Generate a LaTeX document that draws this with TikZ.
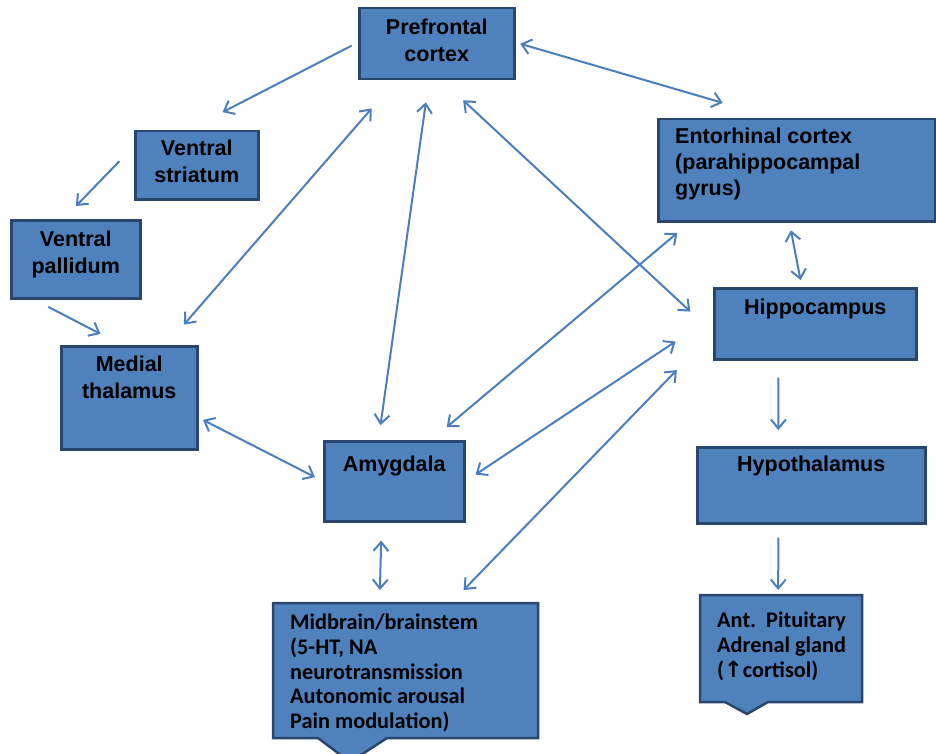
\documentclass[tikz,border=0pt]{standalone}
\usepackage{fontspec}
\setmainfont{Liberation Sans}
\newfontfamily\calib{Carlito}
\newfontfamily\symb{DejaVu Sans}
\usetikzlibrary{positioning,arrows.meta,calc}

\definecolor{boxfill}{RGB}{79,129,189}
\definecolor{boxline}{RGB}{40,70,110}
\definecolor{arrowc}{RGB}{74,126,189}

\begin{document}
\begin{tikzpicture}[x=1pt, y=-1pt,
	b/.style={draw=boxline, fill=boxfill, line width=2.5pt, rectangle, anchor=north west, inner sep=0pt},
	cb/.style={rectangle, anchor=north west, inner sep=0pt, outer sep=0pt},
	outline/.style={draw=boxline, fill=boxfill, line width=2.5pt},
	t/.style={inner sep=0pt, align=center, font=\fontsize{21.5}{27}\selectfont\bfseries},
	tl/.style={inner sep=0pt, align=left, font=\fontsize{21.5}{26}\selectfont\bfseries},
	tc/.style={inner sep=0pt, align=left, font=\calib\fontsize{22.3}{24.7}\selectfont\bfseries},
	one/.style={draw=arrowc, line width=2pt, -{Straight Barb[length=9pt,width=15pt]}},
	two/.style={draw=arrowc, line width=2pt, {Straight Barb[length=9pt,width=15pt]}-{Straight Barb[length=9pt,width=15pt]}}]
	\fill[white] (0,0) rectangle (936,754);
	\useasboundingbox (0,0) rectangle (936,754);

	% boxes
	\node[b, minimum width=155pt, minimum height=71pt] (pfc) at (358,7) {};
	\node[b, minimum width=123pt, minimum height=68pt] (vs) at (134,130) {};
	\node[b, minimum width=129pt, minimum height=78pt] (vp) at (10,219) {};
	\node[b, minimum width=136pt, minimum height=103pt] (th) at (60,345) {};
	\node[b, minimum width=140pt, minimum height=80pt] (am) at (323,440) {};
	\node[b, minimum width=277pt, minimum height=102pt] (ec) at (657,118) {};
	\node[b, minimum width=202pt, minimum height=71pt] (hi) at (713,287) {};
	\node[b, minimum width=228pt, minimum height=76pt] (hy) at (696,446) {};
	\node[cb, minimum width=265pt, minimum height=135pt] (mb) at (273,603) {};
	\node[cb, minimum width=162pt, minimum height=107pt] (ap) at (700,595) {};

	% pointer boxes
	\draw[outline] (mb.north west) -- (mb.north east) -- (mb.south east)
		-- ($(mb.south west)+(114,0)$) -- ($(mb.south west)+(77,24)$) -- ($(mb.south west)+(45,0)$)
		-- (mb.south west) -- cycle;
	\draw[outline] (ap.north west) -- (ap.north east) -- (ap.south east)
		-- ($(ap.south west)+(68,0)$) -- ($(ap.south west)+(47,12)$) -- ($(ap.south west)+(25,0)$)
		-- (ap.south west) -- cycle;

	% texts
	\node[t, below=11.5pt of pfc.north] (pfc-t) {Prefrontal\\cortex};
	\node[t, below=10pt of vs.north] (vs-t) {Ventral\\striatum};
	\node[t, below=12pt of vp.north] (vp-t) {Ventral\\pallidum};
	\node[t, below=11pt of th.north] (th-t) {Medial\\thalamus};
	\node[t, below=16pt of am.north] (am-t) {Amygdala};
	\node[tl, below right=10pt and 18pt of ec.north west] (ec-t) {Entorhinal cortex\\(parahippocampal\\gyrus)};
	\node[t, below=12pt of hi.north] (hi-t) {Hippocampus};
	\node[t, below=10pt of hy.north] (hy-t) {Hypothalamus};
	\node[tc, below right=11pt and 17pt of mb.north west] (mb-t) {Midbrain/brainstem\\(5-HT, NA\\neurotransmission\\Autonomic arousal\\Pain modulation)};
	\node[tc, below right=17pt and 17pt of ap.north west] (ap-t) {Ant.\ \ Pituitary\\Adrenal gland\\({\symb\bfseries\char"2191}cortisol)};

	% connectors
	\draw[one, shorten <=7pt, shorten >=39pt] (pfc.179) -- (vs.104);
	\draw[one, shorten <=21pt, shorten >=18pt] (vs.163) -- (vp.107);
	\draw[one, shorten <=16pt, shorten >=24pt] (vp.224) -- (th.98);
	\draw[two, shorten <=37pt, shorten >=27pt] (pfc.222) -- (th.55);
	\draw[two, shorten <=22pt, shorten >=15pt] (pfc.258) -- (am.111);
	\draw[two, shorten <=29pt, shorten >=31pt] (pfc.278) -- (hi.185);
	\draw[two, shorten <=5pt, shorten >=54pt] (pfc.1) -- (ec.113);
	\draw[two, shorten <=8pt, shorten >=7pt] (ec.262) -- (hi.110);
	\draw[one, shorten <=17pt, shorten >=16pt] (hi.225) -- (hy.130);
	\draw[one, shorten <=13pt, shorten >=5pt] (hy.230) -- (ap.93);
	\draw[two, shorten <=5pt, shorten >=9pt] (th.344) -- (am.180);
	\draw[two, shorten <=20pt, shorten >=16pt] (am.48) -- (ec.206);
	\draw[two, shorten <=12pt, shorten >=45pt] (am.0) -- (hi.176);
	\draw[two, shorten <=18pt, shorten >=13pt] (am.253) -- (mb.111);
	\draw[two, shorten <=18pt, shorten >=52pt] (mb.56) -- (hi.185);
\end{tikzpicture}
\end{document}
